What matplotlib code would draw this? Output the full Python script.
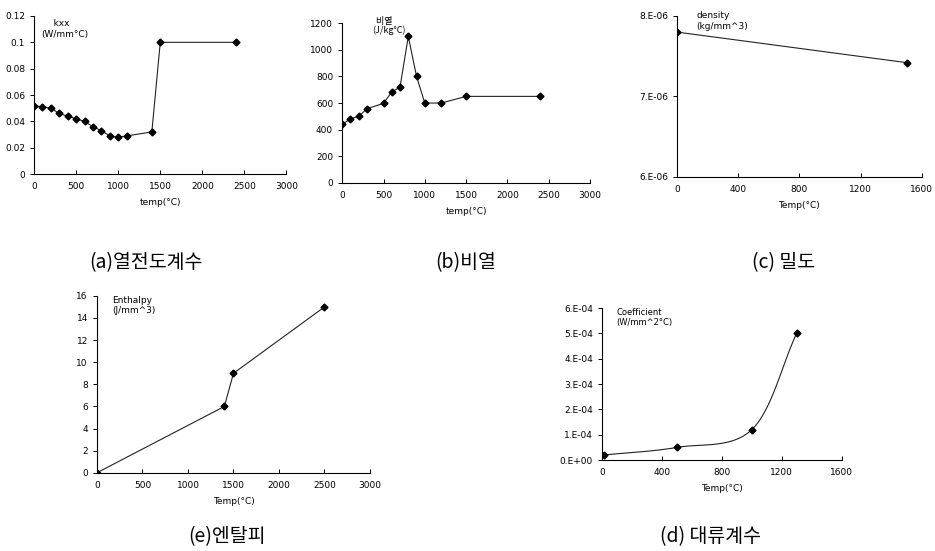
import numpy as np
import matplotlib.pyplot as plt
from matplotlib.ticker import FuncFormatter

# (a) thermal conductivity
a_temp = [0, 100, 200, 300, 400, 500, 600, 700, 800, 900, 1000, 1100, 1400, 1500, 2400]
a_k = [0.052, 0.051, 0.050, 0.046, 0.044, 0.042, 0.040, 0.036, 0.033, 0.029, 0.028, 0.029, 0.032, 0.1, 0.1]
# (b) specific heat
b_temp = [0, 100, 200, 300, 500, 600, 700, 800, 900, 1000, 1200, 1500, 2400]
b_cp = [440, 482, 500, 557, 598, 683, 720, 1100, 800, 600, 600, 650, 650]
# (c) density
c_temp = [0, 1500]
c_rho = [7.80e-6, 7.42e-6]
# (e) enthalpy
e_temp = [0, 1400, 1500, 2500]
e_h = [0, 6, 9, 15]
# (d) convection coefficient
d_temp = [10, 500, 1000, 1300]
d_h = [2e-5, 5e-5, 1.2e-4, 5e-4]

captions = ["(a)열전도계수", "(b)비열", "(c) 밀도", "(e)엔탈피", "(d) 대류계수"]

plt.rcParams['font.family'] = ['DejaVu Sans']
fig = plt.figure(figsize=(9.35, 5.51), dpi=100)

def style(ax):
    for s in ["top", "right"]:
        ax.spines[s].set_visible(False)
    for s in ["left", "bottom"]:
        ax.spines[s].set_linewidth(0.8)
    ax.tick_params(axis="x", direction="in", length=3, width=0.7, labelsize=6.5, pad=6)
    ax.tick_params(axis="y", direction="out", length=3, width=0.7, labelsize=6.5)

def catmull(x, y, n=40):
    x = np.asarray(x, float); y = np.asarray(y, float)
    px = np.concatenate([[2 * x[0] - x[1]], x, [2 * x[-1] - x[-2]]])
    py = np.concatenate([[2 * y[0] - y[1]], y, [2 * y[-1] - y[-2]]])
    xs, ys = [], []
    t = np.linspace(0, 1, n)
    for i in range(1, len(px) - 2):
        for p, out in ((px, xs), (py, ys)):
            p0, p1, p2, p3 = p[i - 1], p[i], p[i + 1], p[i + 2]
            out.extend(0.5 * (2 * p1 + (-p0 + p2) * t + (2 * p0 - 5 * p1 + 4 * p2 - p3) * t ** 2
                              + (-p0 + 3 * p1 - 3 * p2 + p3) * t ** 3))
    return xs, ys

g = FuncFormatter(lambda v, p: f"{v:g}")

# (a)
ax = fig.add_axes([0.0364, 0.684, 0.270, 0.287])
ax.plot(a_temp, a_k, color="#222222", lw=0.8, marker="D", ms=3.5, mfc="black", mec="black")
ax.set_xlim(0, 3000); ax.set_ylim(0, 0.12)
ax.set_xticks(range(0, 3001, 500)); ax.set_yticks(np.arange(0, 0.121, 0.02))
ax.yaxis.set_major_formatter(g)
ax.set_xlabel("temp(°C)", fontsize=6.5, labelpad=5)
ax.text(0.03, 0.98, "    kxx\n(W/mm°C)", transform=ax.transAxes, fontsize=6.5, va="top")
style(ax)

# (b)
ax = fig.add_axes([0.366, 0.668, 0.265, 0.290])
ax.plot(b_temp, b_cp, color="#222222", lw=0.8, marker="D", ms=3.5, mfc="black", mec="black")
ax.set_xlim(0, 3000); ax.set_ylim(0, 1200)
ax.set_xticks(range(0, 3001, 500)); ax.set_yticks(range(0, 1201, 200))
ax.set_xlabel("temp(°C)", fontsize=6.5, labelpad=5)
ax.text(0.12, 1.04, "  비열\n(J/kg°C)", transform=ax.transAxes, fontsize=6.5, va="top",
        family=["Noto Sans CJK KR", "DejaVu Sans"], linespacing=1.0)
style(ax)

# (c)
ax = fig.add_axes([0.724, 0.679, 0.262, 0.292])
ax.plot(c_temp, c_rho, color="#222222", lw=0.8, marker="D", ms=3.5, mfc="black", mec="black")
ax.set_xlim(0, 1600); ax.set_ylim(6e-6, 8e-6)
ax.set_xticks(range(0, 1601, 400)); ax.set_yticks([6e-6, 7e-6, 8e-6])
ax.yaxis.set_major_formatter(FuncFormatter(lambda v, p: f"{v / 1e-6:.0f}.E-06"))
ax.set_xlabel("Temp(°C)", fontsize=6.5, labelpad=5)
ax.text(0.08, 1.03, "density\n(kg/mm^3)", transform=ax.transAxes, fontsize=6.5, va="top")
style(ax)

# (e)
ax = fig.add_axes([0.1037, 0.142, 0.292, 0.321])
ax.plot(e_temp, e_h, color="#222222", lw=0.8, marker="D", ms=3.5, mfc="black", mec="black")
ax.set_xlim(0, 3000); ax.set_ylim(0, 16)
ax.set_xticks(range(0, 3001, 500)); ax.set_yticks(range(0, 17, 2))
ax.set_xlabel("Temp(°C)", fontsize=6.5, labelpad=5)
ax.text(0.055, 1.0, "Enthalpy\n(J/mm^3)", transform=ax.transAxes, fontsize=6.5, va="top")
style(ax)

# (d)
ax = fig.add_axes([0.644, 0.165, 0.256, 0.276])
sx, sy = catmull(d_temp, d_h)
ax.plot(sx, sy, color="#222222", lw=0.8)
ax.plot(d_temp, d_h, ls="none", marker="D", ms=3.5, mfc="black", mec="black")
ax.set_xlim(0, 1600); ax.set_ylim(0, 6e-4)
ax.set_xticks(range(0, 1601, 400)); ax.set_yticks(np.arange(0, 6.1e-4, 1e-4))
ax.yaxis.set_major_formatter(FuncFormatter(
    lambda v, p: "0.E+00" if v == 0 else f"{v / 1e-4:.0f}.E-04"))
ax.set_xlabel("Temp(°C)", fontsize=6.5, labelpad=5)
ax.text(0.06, 1.0, "Coefficient\n(W/mm^2°C)", transform=ax.transAxes, fontsize=6, va="top")
style(ax)

cap_pos = [(146, 263), (466, 263), (784, 263), (227, 537), (710, 537)]
for txt, (px, py) in zip(captions, cap_pos):
    fig.text(px / 935, 1 - py / 551, txt, ha="center", va="center", fontsize=14,
             family=["Noto Sans CJK KR", "DejaVu Sans"])

fig.savefig("out.png", dpi=100)
